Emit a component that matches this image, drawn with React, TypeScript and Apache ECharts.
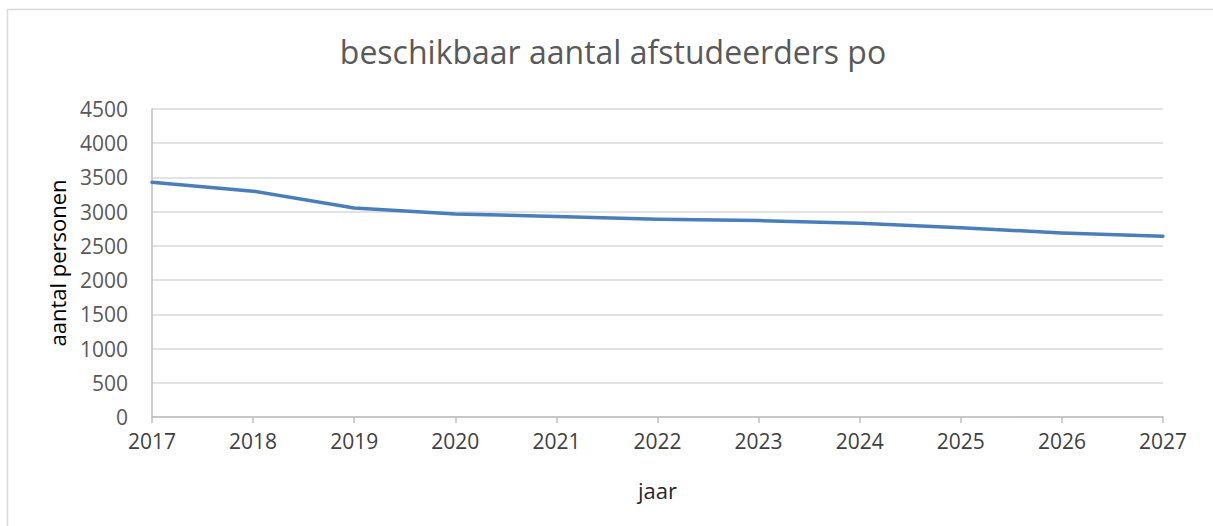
import React, { useEffect, useRef } from "react";
import * as echarts from "echarts";

const years = ["2017", "2018", "2019", "2020", "2021", "2022", "2023", "2024", "2025", "2026", "2027"];
const afstudeerders = [3430, 3300, 3055, 2965, 2930, 2890, 2870, 2830, 2765, 2690, 2640];
const titleText = "beschikbaar aantal afstudeerders po";
const yName = "aantal personen";
const xName = "jaar";

export default function App() {
  const ref = useRef<HTMLDivElement>(null);
  useEffect(() => {
    document.body.style.margin = "0";
    const chart = echarts.init(ref.current!, null, { renderer: "svg" });
    const font = "'Open Sans', 'Liberation Sans', sans-serif";
    chart.setOption({
      animation: false,
      backgroundColor: "#ffffff",
      title: {
        text: titleText,
        left: 608,
        textAlign: "center",
        top: 30,
        textStyle: { fontFamily: font, fontSize: 32, fontWeight: "normal", color: "#595959" },
      },
      graphic: [
        {
          type: "rect",
          shape: { x: 7.5, y: 9.5, width: 1300, height: 600 },
          style: { fill: "none", stroke: "#d9d9d9", lineWidth: 1.5 },
          silent: true,
        },
      ],
      grid: { left: 152, right: 50, top: 109, bottom: 109 },
      xAxis: {
        type: "category",
        data: years,
        boundaryGap: false,
        name: xName,
        nameLocation: "middle",
        nameGap: 62,
        nameTextStyle: { fontFamily: font, fontSize: 22, color: "#262626" },
        axisLine: { lineStyle: { color: "#bfbfbf", width: 1.5 } },
        axisTick: { show: true, length: 6, lineStyle: { color: "#bfbfbf", width: 1.5 } },
        axisLabel: { fontFamily: font, fontSize: 21, color: "#404040", margin: 13 },
        splitLine: { show: false },
      },
      yAxis: {
        type: "value",
        min: 0,
        max: 4500,
        interval: 500,
        name: yName,
        nameLocation: "middle",
        nameGap: 84,
        nameTextStyle: { fontFamily: font, fontSize: 22, color: "#000000" },
        axisLine: { show: true, lineStyle: { color: "#bfbfbf", width: 1.5 } },
        axisTick: { show: false },
        axisLabel: {
          fontFamily: font,
          fontSize: 21,
          color: "#595959",
          margin: 24,
          formatter: (v: number) => String(v),
        },
        splitLine: { lineStyle: { color: "#d9d9d9", width: 1.5 } },
      },
      series: [
        {
          type: "line",
          data: afstudeerders,
          smooth: false,
          symbol: "none",
          lineStyle: { color: "#4a7ebb", width: 3.5, cap: "round", join: "round" },
        },
      ],
    });
    return () => chart.dispose();
  }, []);
  return <div ref={ref} style={{ width: 1213, height: 526 }} />;
}
